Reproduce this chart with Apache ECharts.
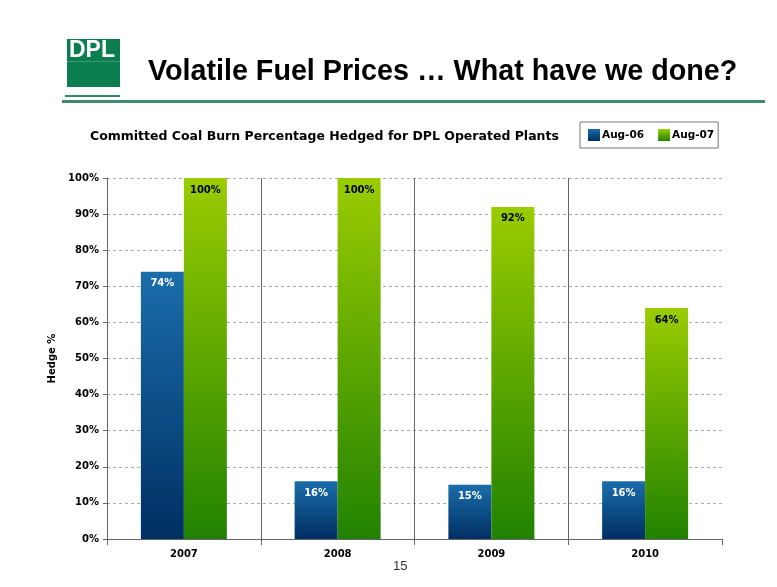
<!DOCTYPE html>
<html><head><meta charset="utf-8">
<script src="https://cdn.jsdelivr.net/npm/echarts@6/dist/echarts.min.js"></script>
<style>html,body{margin:0;padding:0;background:#fff}#c{width:777px;height:587px}</style>
</head><body><div id="c"></div>
<script>
var categories = ['2007', '2008', '2009', '2010'];
var aug06 = [74, 16, 15, 16];
var aug07 = [100, 100, 92, 64];
var seriesNames = ['Aug-06', 'Aug-07'];
var yTicks = [0, 10, 20, 30, 40, 50, 60, 70, 80, 90, 100];
var dividers = [1, 2, 3];

var chart = echarts.init(document.getElementById('c'));
var blueGrad = new echarts.graphic.LinearGradient(0, 0, 0, 1, [{offset: 0, color: '#1a6dab'}, {offset: 1, color: '#002f62'}]);
var greenGrad = new echarts.graphic.LinearGradient(0, 0, 0, 1, [{offset: 0, color: '#9acc00'}, {offset: 1, color: '#218200'}]);
var lab = {fontFamily: 'DejaVu Sans', fontWeight: 'bold', fontSize: 10};
chart.setOption({
  animation: false,
  grid: {left: 107, right: 55, top: 178, bottom: 48},
  legend: {
    data: seriesNames, left: 580, top: 122, padding: [7, 4, 7, 8],
    borderColor: '#777', borderWidth: 1, itemWidth: 12, itemHeight: 12, itemGap: 14,
    icon: 'rect',
    textStyle: {fontFamily: 'DejaVu Sans', fontWeight: 'bold', fontSize: 10.5, color: '#000', padding: [0, 0, 0, -3]}
  },
  xAxis: [{
    type: 'category', data: categories,
    axisLine: {lineStyle: {color: '#666', width: 1}},
    axisTick: {show: true, length: 6, lineStyle: {color: '#666'}},
    axisLabel: {color: '#000', margin: 10, fontFamily: 'DejaVu Sans', fontWeight: 'bold', fontSize: 10},
    splitLine: {show: false}
  }, {
    type: 'value', min: 0, max: 4, show: false
  }],
  yAxis: {
    type: 'value', min: 0, max: 100, interval: 10,
    name: 'Hedge %', nameLocation: 'middle', nameRotate: 90, nameGap: 38,
    nameTextStyle: {color: '#000', fontFamily: 'DejaVu Sans', fontWeight: 'bold', fontSize: 10},
    axisLine: {show: true, lineStyle: {color: '#666'}},
    axisTick: {show: true, length: 4, lineStyle: {color: '#666'}},
    axisLabel: {color: '#000', margin: 8, fontFamily: 'DejaVu Sans', fontWeight: 'bold', fontSize: 10,
      formatter: function (v) { return yTicks.indexOf(v) >= 0 ? v + '%' : ''; }},
    splitLine: {lineStyle: {color: '#aaa', type: [3, 3], width: 1}}
  },
  series: [
    {type: 'scatter', xAxisIndex: 1, yAxisIndex: 0, data: [[0, 0]], symbolSize: 0, silent: true,
     itemStyle: {opacity: 0},
     markLine: {silent: true, symbol: 'none', label: {show: false}, animation: false,
       lineStyle: {color: '#666', type: 'solid', width: 1},
       data: dividers.map(function (d) { return [{coord: [d, 100]}, {coord: [d, 0]}]; })}},
    {name: seriesNames[0], type: 'bar', data: aug06, barWidth: 43, barGap: '0%',
     itemStyle: {color: blueGrad},
     label: Object.assign({show: true, position: 'insideTop', distance: 7, color: '#fff', formatter: '{c}%'}, lab)},
    {name: seriesNames[1], type: 'bar', data: aug07, barWidth: 43,
     itemStyle: {color: greenGrad},
     label: Object.assign({show: true, position: 'insideTop', distance: 7, color: '#000', formatter: '{c}%'}, lab)}
  ],
  graphic: [
    {type: 'rect', left: 67, top: 39, shape: {width: 53, height: 48}, style: {fill: '#0c7d4f'}},
    {type: 'rect', left: 67, top: 61, shape: {width: 53, height: 1}, style: {fill: '#3a9a70'}},
    {type: 'text', left: 69, top: 39, style: {text: 'DPL', fill: '#fff', font: 'bold 23px "Liberation Sans"'}},
    {type: 'rect', left: 65, top: 95, shape: {width: 55, height: 2}, style: {fill: '#2f8a62'}},
    {type: 'rect', left: 62, top: 100, shape: {width: 703, height: 3}, style: {fill: '#3d8c6c'}},
    {type: 'text', left: 148, top: 58, style: {text: 'Volatile Fuel Prices \u2026 What have we done?', fill: '#000', font: 'bold 28.7px "Liberation Sans"'}},
    {type: 'text', left: 90, top: 130, style: {text: 'Committed Coal Burn Percentage Hedged for DPL Operated Plants', fill: '#000', font: 'bold 12.5px "DejaVu Sans"'}},
    {type: 'text', left: 393, top: 560, style: {text: '15', fill: '#333', font: '13px "Liberation Sans"'}}
  ]
});
</script></body></html>
